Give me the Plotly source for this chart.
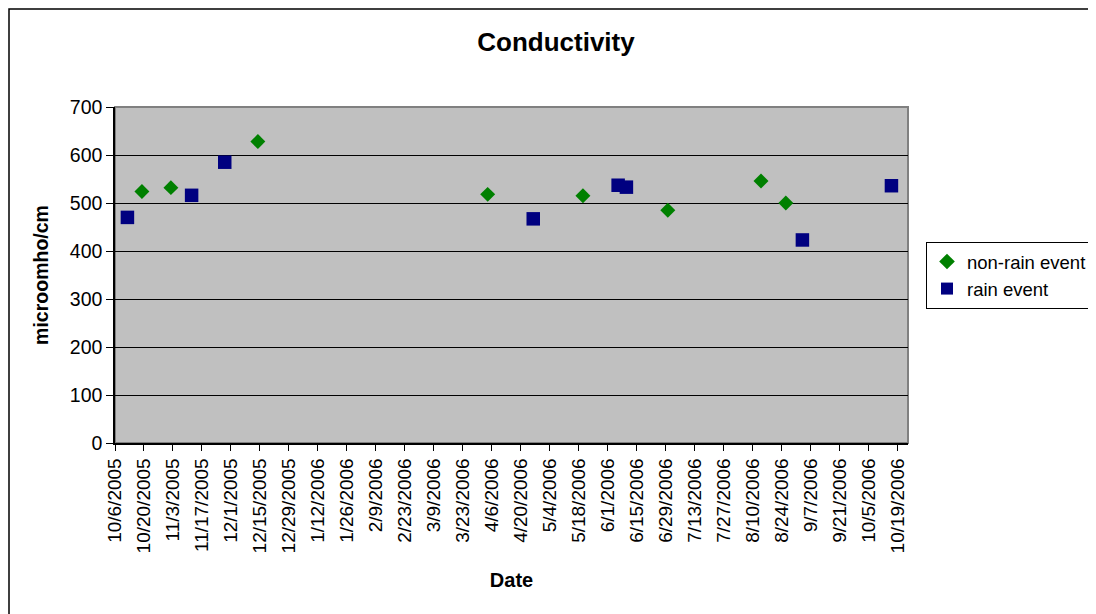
import plotly.graph_objects as go

# Data
nonrain_dates = ["2005-10-19", "2005-11-02", "2005-12-14", "2006-04-04",
                 "2006-05-20", "2006-06-30", "2006-08-14", "2006-08-26"]
nonrain_vals = [524, 532, 628, 518, 515, 485, 546, 500]

rain_dates = ["2005-10-12", "2005-11-12", "2005-11-28", "2006-04-26",
              "2006-06-06", "2006-06-10", "2006-09-03", "2006-10-16"]
rain_vals = [470, 516, 585, 467, 537, 533, 423, 536]

x_start = "2005-10-06"
x_end = "2006-10-24"
y_ticks = [0, 100, 200, 300, 400, 500, 600, 700]

OFF = 8  # page body margin in the browser
W, H = 1096 - OFF, 614 - OFF
L, R, T, B = 115 - OFF, 908 - OFF, 107 - OFF, 443 - OFF
pw, ph = R - L, B - T

def px_x(p):
    return (p - OFF - L) / pw

def px_y(p):
    return (B - (p - OFF)) / ph

FONT = "Liberation Sans, Arial, sans-serif"

fig = go.Figure()
fig.add_trace(go.Scatter(
    x=nonrain_dates, y=nonrain_vals, mode="markers", name="non-rain event",
    marker=dict(symbol="diamond", size=11.5, color="#008000", line=dict(width=0)),
))
fig.add_trace(go.Scatter(
    x=rain_dates, y=rain_vals, mode="markers", name="rain event",
    marker=dict(symbol="square", size=13.5, color="#000080", line=dict(width=0)),
))

fig.update_layout(
    width=W, height=H,
    margin=dict(l=L, r=W - R, t=T, b=H - B, autoexpand=False),
    paper_bgcolor="white",
    plot_bgcolor="#C0C0C0",
    font=dict(family=FONT, size=19, color="black"),
    title=dict(text="<b>Conductivity</b>", x=(556 - OFF) / W, xref="container", xanchor="center",
               y=1 - (42 - OFF) / H, yref="container", yanchor="middle",
               font=dict(family=FONT, size=26, color="black")),
    showlegend=True,
    legend=dict(x=px_x(926), y=px_y(242), xanchor="left", yanchor="top",
                bordercolor="black", borderwidth=1, bgcolor="white",
                font=dict(family=FONT, size=18.5, color="black"),
                itemsizing="constant", tracegroupgap=0),
    xaxis=dict(
        type="date", range=[x_start, x_end],
        tick0=x_start, dtick=14 * 86400000, tickformat="%-m/%-d/%Y",
        tickangle=-90, ticks="outside", ticklen=6, tickcolor="black",
        showgrid=False, zeroline=False,
        showline=True, linecolor="black", linewidth=1.5,
        tickfont=dict(family=FONT, size=19, color="black"),
        title=dict(text="<b>Date</b>", font=dict(family=FONT, size=20, color="black"), standoff=21),
    ),
    yaxis=dict(
        range=[0, 700], tickvals=y_ticks, ticks="outside", ticklen=7, tickcolor="black",
        showgrid=True, gridcolor="#000000", gridwidth=1,
        zeroline=False, showline=True, linecolor="black", linewidth=1.5,
        tickfont=dict(family=FONT, size=19.5, color="black"),
        title=dict(text="<b>microomho/cm</b>", font=dict(family=FONT, size=19.5, color="black"), standoff=16),
    ),
    shapes=[
        # plot-area border (gray)
        dict(type="rect", xref="paper", yref="paper", x0=0, x1=1, y0=0, y1=1,
             line=dict(color="#808080", width=2), layer="below"),
        # chart-area border
        dict(type="rect", xref="paper", yref="paper",
             x0=px_x(OFF + 1), x1=px_x(1104), y0=px_y(620), y1=px_y(OFF + 1),
             line=dict(color="black", width=1.5)),
    ],
)

fig.write_html("out.html")
